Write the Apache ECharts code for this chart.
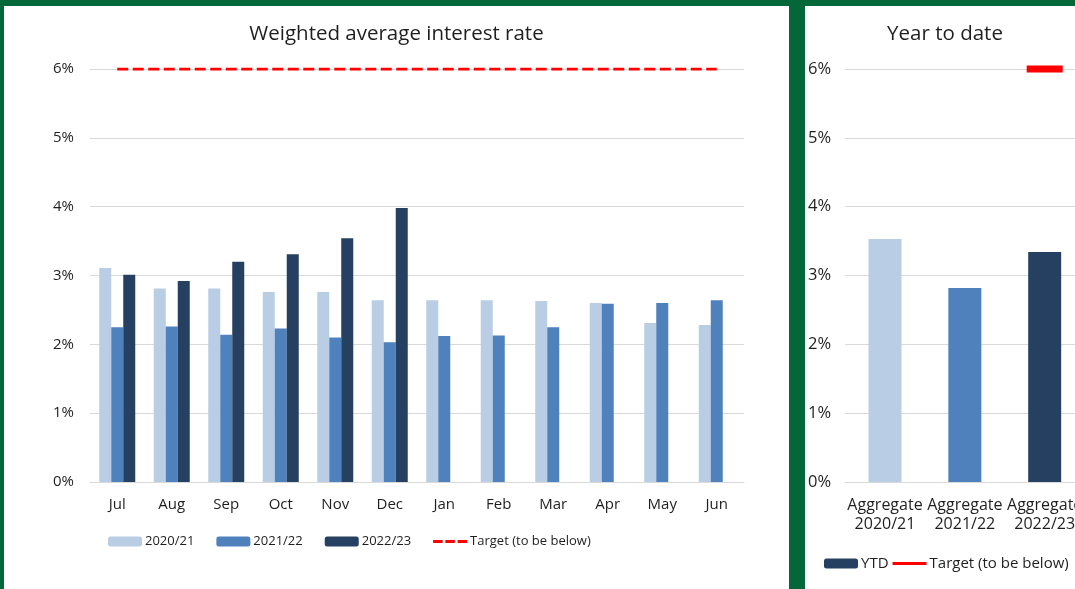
<!DOCTYPE html>
<html>
<head>
<meta charset="utf-8">
<script src="https://cdn.jsdelivr.net/npm/echarts@6/dist/echarts.min.js"></script>
<style>
  html, body { margin: 0; padding: 0; width: 1075px; height: 589px; overflow: hidden; background: #03673a; }
  #monthly { position: absolute; left: 4px; top: 6px; width: 785px; height: 583px; background: #fff; }
  #ytd { position: absolute; left: 805px; top: 6px; width: 280px; height: 583px; background: #fff; }
</style>
</head>
<body>
<div id="monthly"></div>
<div id="ytd"></div>
<script>
// Monthly weighted average interest rate (%) by financial year
const months = ['Jul', 'Aug', 'Sep', 'Oct', 'Nov', 'Dec', 'Jan', 'Feb', 'Mar', 'Apr', 'May', 'Jun'];
const rate2021 = [3.11, 2.81, 2.81, 2.76, 2.76, 2.64, 2.64, 2.64, 2.63, 2.60, 2.31, 2.28];
const rate2122 = [2.25, 2.26, 2.14, 2.23, 2.10, 2.03, 2.12, 2.13, 2.25, 2.59, 2.60, 2.64];
const rate2223 = [3.01, 2.92, 3.20, 3.31, 3.54, 3.98];
const targetRate = 6;

// Year-to-date aggregates
const ytdCategories = ['Aggregate 2020/21', 'Aggregate 2021/22', 'Aggregate 2022/23'];
const ytdValues = [3.53, 2.82, 3.34];

// Shared y-axis scale (percent)
const yMin = 0, yMax = 6, yStep = 1;

const FONT = 'Open Sans';
const TEXT = '#1f1f1f';
const GRID = '#d9d9d9';
const C1 = '#b9cde5', C2 = '#4f81bd', C3 = '#254061', RED = '#ff0000';

// Legend glyphs for the target line: dashed and solid strokes
const DASH_ICON = 'path://M0,0H9.5V3H0Z M12.25,0H21.75V3H12.25Z M24.5,0H34V3H24.5Z';
const LINE_ICON = 'path://M0,0H34V3H0Z';

function yAxisCfg(margin, size) {
  return {
    type: 'value', min: yMin, max: yMax, interval: yStep,
    axisLine: { show: false }, axisTick: { show: false },
    axisLabel: { formatter: '{value}%', color: TEXT, fontFamily: FONT, fontSize: size, margin: margin },
    splitLine: { lineStyle: { color: GRID, width: 1 } }
  };
}

const monthly = echarts.init(document.getElementById('monthly'), null, { renderer: 'canvas' });
monthly.setOption({
  animation: false,
  title: {
    text: 'Weighted average interest rate', left: 'center', top: 13,
    textStyle: { fontFamily: FONT, fontSize: 20.5, fontWeight: 'normal', color: TEXT }
  },
  grid: { left: 86, right: 45, top: 63, bottom: 107 },
  legend: {
    left: 99, top: 524, itemWidth: 34, itemHeight: 10, itemGap: 22,
    textStyle: { fontFamily: FONT, fontSize: 13, color: TEXT, padding: [0, 0, 0, -2] },
    data: ['2020/21', '2021/22', '2022/23', { name: 'Target (to be below)', icon: DASH_ICON }]
  },
  xAxis: {
    type: 'category', data: months,
    axisLine: { lineStyle: { color: GRID } }, axisTick: { show: false },
    axisLabel: { color: TEXT, fontFamily: FONT, fontSize: 15, margin: 15 }
  },
  yAxis: yAxisCfg(16, 15),
  series: [
    { name: '2020/21', type: 'bar', data: rate2021, barWidth: 12, barGap: 0, itemStyle: { color: C1 } },
    { name: '2021/22', type: 'bar', data: rate2122, barWidth: 12, barGap: 0, itemStyle: { color: C2 } },
    { name: '2022/23', type: 'bar', data: rate2223, barWidth: 12, barGap: 0, itemStyle: { color: C3 } },
    {
      name: 'Target (to be below)', type: 'line', data: months.map(() => targetRate),
      symbol: 'none', itemStyle: { color: RED },
      lineStyle: { color: RED, width: 3, type: [11, 4.5] }
    }
  ]
});

const ytd = echarts.init(document.getElementById('ytd'), null, { renderer: 'canvas' });
ytd.setOption({
  animation: false,
  title: {
    text: 'Year to date', left: 'center', top: 13,
    textStyle: { fontFamily: FONT, fontSize: 20.5, fontWeight: 'normal', color: TEXT }
  },
  grid: { left: 40, width: 241.5, top: 63, bottom: 107 },
  legend: {
    left: 14, top: 545, itemWidth: 34, itemHeight: 10, itemGap: 4,
    textStyle: { fontFamily: FONT, fontSize: 15, color: TEXT, padding: [0, 0, 0, -2] },
    data: ['YTD', { name: 'Target (to be below)', icon: LINE_ICON }]
  },
  xAxis: {
    type: 'category', data: ytdCategories,
    axisLine: { lineStyle: { color: GRID } }, axisTick: { show: false },
    axisLabel: {
      color: TEXT, fontFamily: FONT, fontSize: 16, margin: 14, lineHeight: 19,
      interval: 0, formatter: v => v.replace(' ', '\n')
    }
  },
  yAxis: yAxisCfg(14, 16.5),
  series: [
    {
      name: 'YTD', type: 'bar', barWidth: 33, itemStyle: { color: C3 },
      data: ytdValues.map((v, i) => ({ value: v, itemStyle: { color: [C1, C2, C3][i] } }))
    },
    {
      name: 'Target (to be below)', type: 'line', symbol: 'none', showSymbol: true,
      itemStyle: { color: RED }, lineStyle: { color: RED, width: 3 },
      data: ytdValues.map((v, i) => i === ytdValues.length - 1
        ? { value: targetRate, symbol: 'rect', symbolSize: [36, 7] }
        : null)
    }
  ]
});
</script>
</body>
</html>
